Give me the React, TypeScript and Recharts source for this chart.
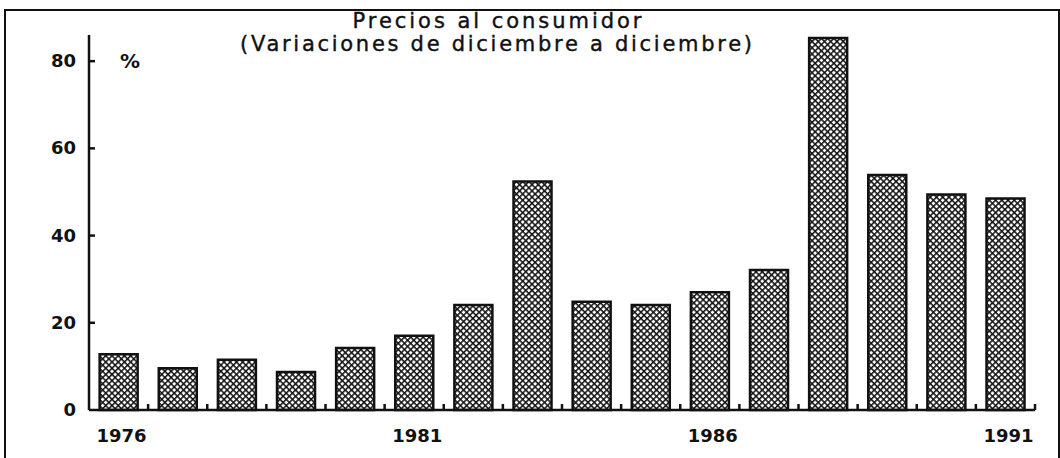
import { Bar, BarChart, XAxis, YAxis } from "recharts";

const years = [
  "1976", "1977", "1978", "1979", "1980", "1981", "1982", "1983",
  "1984", "1985", "1986", "1987", "1988", "1989", "1990", "1991",
];
const variation = [
  12.8, 9.6, 11.5, 8.7, 14.2, 17.0, 24.1, 52.4,
  24.8, 24.1, 27.0, 32.1, 85.3, 53.9, 49.4, 48.5,
];
const yTicks = [0, 20, 40, 60, 80];
const labeledYears = ["1976", "1981", "1986", "1991"];
const titleLines = ["Precios al consumidor", "(Variaciones de diciembre a diciembre)"];
const unitLabel = "%";

const data = years.map((year, i) => ({ year, value: variation[i] }));

const ink = "#111";
const font = "'DejaVu Sans', sans-serif";
const W = 1060;
const H = 458;
const margin = { top: 35, right: 25, left: 0, bottom: 18 };
const yAxisW = 89;
const plotW = W - margin.right - margin.left - yAxisW;

function YearTick(props: any) {
  const { x, y, payload } = props;
  // tick marks sit on the category boundaries, half a band right of centre
  const half = plotW / years.length / 2;
  return (
    <g>
      <line x1={x + half} x2={x + half} y1={y} y2={y - 6} stroke={ink} strokeWidth={2.5} />
      {labeledYears.includes(payload.value) && (
        <text
          x={x + 3}
          y={y + 32}
          textAnchor="middle"
          fontFamily={font}
          fontWeight="bold"
          fontSize={18}
          fill={ink}
        >
          {payload.value}
        </text>
      )}
    </g>
  );
}

function PctTick(props: any) {
  const { x, y, payload } = props;
  return (
    <g>
      {payload.value !== 0 && (
        <line x1={x} x2={x + 6} y1={y} y2={y} stroke={ink} strokeWidth={2.5} />
      )}
      <text
        x={x - 13}
        y={y + 6}
        textAnchor="end"
        fontFamily={font}
        fontWeight="bold"
        fontSize={18}
        fill={ink}
      >
        {payload.value}
      </text>
    </g>
  );
}

export default function App() {
  return (
    <div style={{ position: "absolute", left: 0, top: 0, width: W, height: H, background: "#fff", overflow: "hidden" }}>
      <div
        style={{
          position: "absolute",
          left: 4,
          top: 9,
          width: 1052,
          height: 460,
          borderTop: `2px solid ${ink}`,
          borderLeft: `2px solid ${ink}`,
          borderRight: `2px solid ${ink}`,
        }}
      />
      <div style={{ position: "absolute", left: 0, top: 0 }}>
        <BarChart width={W} height={H} data={data} margin={margin} barCategoryGap="18%">
          <defs>
            <pattern
              id="xhatch"
              width={4.4}
              height={4.4}
              patternUnits="userSpaceOnUse"
              patternTransform="rotate(45)"
            >
              <rect width={4.4} height={4.4} fill="#fff" />
              <rect width={4.4} height={1.5} fill={ink} />
              <rect width={1.5} height={4.4} fill={ink} />
            </pattern>
          </defs>
          <XAxis
            dataKey="year"
            height={30}
            interval={0}
            tickSize={0}
            tickMargin={0}
            axisLine={{ stroke: ink, strokeWidth: 2.5 }}
            tickLine={false}
            tick={<YearTick />}
          />
          <YAxis
            width={yAxisW}
            domain={[0, 86]}
            ticks={yTicks}
            tickSize={0}
            tickMargin={0}
            axisLine={{ stroke: ink, strokeWidth: 2.5 }}
            tickLine={false}
            tick={<PctTick />}
          />
          <Bar
            dataKey="value"
            fill="url(#xhatch)"
            stroke={ink}
            strokeWidth={2.5}
            isAnimationActive={false}
          />
        </BarChart>
      </div>
      <svg width={W} height={H} style={{ position: "absolute", left: 0, top: 0, pointerEvents: "none" }}>
        <g fontFamily={font} fontSize={21} fill={ink} stroke={ink} strokeWidth={0.4} textAnchor="middle">
          <text x={497} y={28} textLength={289} lengthAdjust="spacing">
            {titleLines[0]}
          </text>
          <text x={496} y={51} textLength={512} lengthAdjust="spacing">
            {titleLines[1]}
          </text>
        </g>
        <text x={130} y={68} textAnchor="middle" fontFamily={font} fontWeight="bold" fontSize={20} fill={ink}>
          {unitLabel}
        </text>
      </svg>
    </div>
  );
}
